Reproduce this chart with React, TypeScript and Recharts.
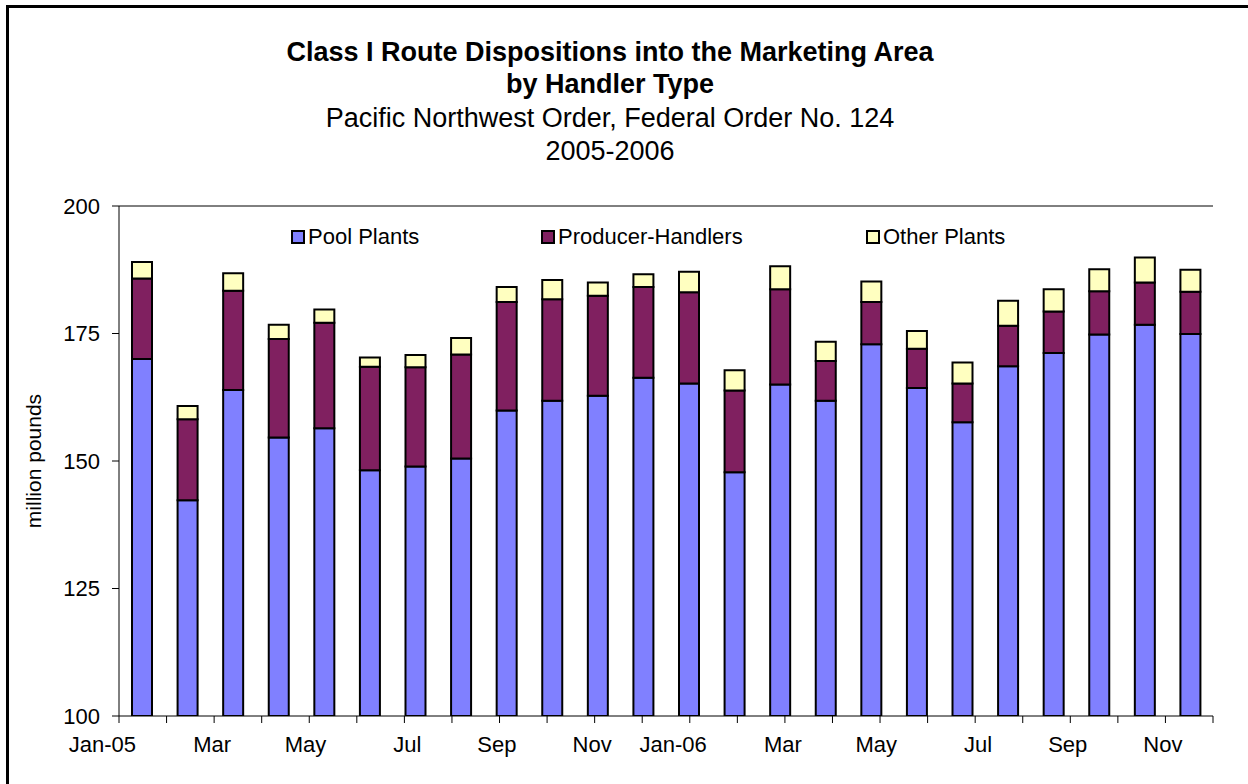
import React from 'react';
import { BarChart, Bar, XAxis, YAxis, ReferenceLine } from 'recharts';

const months = ['Jan-05','Feb-05','Mar-05','Apr-05','May-05','Jun-05','Jul-05','Aug-05','Sep-05','Oct-05','Nov-05','Dec-05','Jan-06','Feb-06','Mar-06','Apr-06','May-06','Jun-06','Jul-06','Aug-06','Sep-06','Oct-06','Nov-06','Dec-06'];
const poolPlants = [170.0,142.3,163.9,154.6,156.4,148.2,148.9,150.5,159.9,161.8,162.8,166.3,165.2,147.8,165.0,161.8,172.9,164.3,157.6,168.6,171.2,174.8,176.7,174.9];
const producerHandlers = [15.8,15.9,19.5,19.3,20.7,20.3,19.5,20.4,21.3,19.9,19.6,17.8,17.9,16.0,18.7,7.8,8.3,7.7,7.6,7.9,8.1,8.5,8.3,8.3];
const otherPlants = [3.2,2.6,3.4,2.8,2.6,1.8,2.4,3.2,2.9,3.8,2.6,2.5,4.0,4.0,4.5,3.8,4.0,3.5,4.1,4.9,4.4,4.3,4.9,4.3];
const xLabels = ['Jan-05','Mar','May','Jul','Sep','Nov','Jan-06','Mar','May','Jul','Sep','Nov'];
const yTicks = [100,125,150,175,200];
const seriesNames = ['Pool Plants','Producer-Handlers','Other Plants'];
const seriesColors = ['#8080FF','#802060','#FFFFC0'];
const titleLines = ['Class I Route Dispositions into the Marketing Area','by Handler Type','Pacific Northwest Order, Federal Order No. 124','2005-2006'];

const data = months.map((m, i) => ({ month: m, pool: poolPlants[i], ph: producerHandlers[i], other: otherPlants[i] }));
const numTicks = Array.from({ length: 25 }, (_, k) => k);

const FONT = '"Liberation Sans", Arial, sans-serif';

const XTick = (props: any) => {
  const { x, y, payload } = props;
  const k = payload.value;
  if (k % 2 !== 0 || k >= 24) return <g />;
  return (
    <text x={x + 17} y={y + 27} textAnchor="end" fontSize={22} fontFamily={FONT} fill="#000">
      {xLabels[k / 2]}
    </text>
  );
};

export default function App() {
  return (
    <div style={{ position: 'absolute', left: 0, top: 0, width: 1248, height: 784, overflow: 'hidden', background: '#fff' }}>
      <div style={{ position: 'absolute', left: 6, top: 5, width: 1400, height: 1000, border: '3px solid #000' }} />
      {titleLines.map((t, i) => (
        <div key={i} style={{ position: 'absolute', left: 0, width: 1220, top: [37, 69, 103, 136][i], textAlign: 'center', fontFamily: FONT, fontSize: 27, fontWeight: i < 2 ? 'bold' : 'normal', lineHeight: '30px', color: '#000' }}>
          {t}
        </div>
      ))}
      <div style={{ position: 'absolute', left: 0, top: 0 }}>
        <BarChart width={1248} height={784} data={data} margin={{ top: 206, right: 35, bottom: 28, left: 0 }} barSize={20}>
          <XAxis dataKey="month" xAxisId={0} hide height={0} />
          <XAxis xAxisId="n" type="number" domain={[0, 24]} ticks={numTicks} interval={0} tick={<XTick />} tickSize={7} height={40} stroke="#000" allowDataOverflow />
          <YAxis domain={[100, 200]} ticks={yTicks} allowDataOverflow width={119} tickSize={7} tickMargin={12} stroke="#000" tick={{ fill: '#000', fontSize: 22, fontFamily: FONT }} interval={0}
            label={{ value: 'million pounds', angle: -90, position: 'insideLeft', offset: 34, style: { fontSize: 21, fontFamily: FONT, fill: '#000', textAnchor: 'middle' } }} />
          <ReferenceLine y={200} stroke="#000" />
          <ReferenceLine xAxisId="n" x={24} stroke="#000" />
          <Bar dataKey="pool" name={seriesNames[0]} stackId="a" fill={seriesColors[0]} stroke="#000" strokeWidth={2} isAnimationActive={false} />
          <Bar dataKey="ph" name={seriesNames[1]} stackId="a" fill={seriesColors[1]} stroke="#000" strokeWidth={2} isAnimationActive={false} />
          <Bar dataKey="other" name={seriesNames[2]} stackId="a" fill={seriesColors[2]} stroke="#000" strokeWidth={2} isAnimationActive={false} />
        </BarChart>
      </div>
      <div style={{ position: 'absolute', left: 0, top: 224, width: 1248, height: 30, fontFamily: FONT, fontSize: 22 }}>
        {seriesNames.map((n, i) => (
          <div key={n} style={{ position: 'absolute', left: [291, 541, 866][i], top: 0, display: 'flex', alignItems: 'center', whiteSpace: 'nowrap', color: '#000' }}>
            <span style={{ display: 'inline-block', width: 10, height: 10, background: seriesColors[i], border: '2px solid #000', marginRight: 3 }} />
            <span>{n}</span>
          </div>
        ))}
      </div>
    </div>
  );
}
